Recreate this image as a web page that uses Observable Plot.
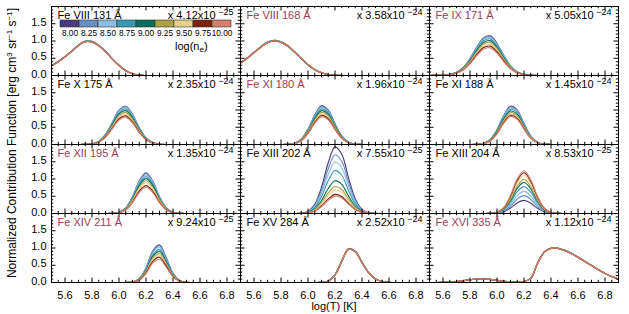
<!DOCTYPE html>
<html><head><meta charset="utf-8">
<script src="https://cdn.jsdelivr.net/npm/d3@7"></script>
<script src="https://cdn.jsdelivr.net/npm/@observablehq/plot@0.6"></script>
<style>
body{margin:0;background:#fff;font-family:"Liberation Sans",Arial,sans-serif;}
#wrap{position:relative;width:629px;height:314px;overflow:hidden;}
#ylab{position:absolute;left:12px;top:143px;transform:translate(-50%,-50%) rotate(-90deg);white-space:nowrap;font-size:12px;color:#000;}
#xlab{position:absolute;left:334px;top:300px;transform:translateX(-50%);white-space:nowrap;font-size:11px;color:#000;}
#cbar{position:absolute;left:56px;top:19px;}
#nelab{position:absolute;left:175px;top:40px;font-size:11px;white-space:nowrap;}
sup,sub{font-size:8px;}
sup{vertical-align:4px;} sub{vertical-align:-2px;}
</style></head><body>
<div id="wrap"></div>
<script>
// ---- data ----
const logT = [5.50,5.55,5.60,5.65,5.70,5.75,5.80,5.85,5.90,5.95,6.00,6.05,6.10,6.15,6.20,6.25,6.30,6.35,6.40,6.45,6.50,6.55,6.60,6.65,6.70,6.75,6.80,6.85,6.90];
const densities = ["8.00","8.25","8.50","8.75","9.00","9.25","9.50","9.75","10.00"];
const densityColors = ["#4a3b7c","#6a8dc2","#8cbde2","#3a99b2","#0b6b5c","#a9a244","#e7cf8c","#7b2209","#d2806f"];

const panelNames = ["Fe VIII 131 Å","Fe VIII 168 Å","Fe IX 171 Å","Fe X 175 Å","Fe XI 180 Å","Fe XI 188 Å","Fe XII 195 Å","Fe XIII 202 Å","Fe XIII 204 Å","Fe XIV 211 Å","Fe XV 284 Å","Fe XVI 335 Å"];
const panelHighlight = [false,true,true,false,true,false,true,false,false,true,false,true];
const scaleMantissa = ["4.12","3.58","5.05","2.35","1.96","1.45","1.35","7.55","8.53","9.24","2.52","1.12"];
const scaleExponent = ["−25","−24","−24","−24","−24","−24","−24","−25","−25","−25","−24","−24"];

const profFeVIII131 = [0.28,0.40,0.54,0.70,0.87,0.98,0.97,0.86,0.69,0.48,0.29,0.14,0.05,0.01,0,0,0,0,0,0,0,0,0,0,0,0,0,0,0];
const profFeVIII168 = [0.36,0.50,0.66,0.82,0.95,1.00,0.96,0.85,0.68,0.49,0.31,0.17,0.08,0.03,0.01,0,0,0,0,0,0,0,0,0,0,0,0,0,0];
const profFeIX171   = [0,0.005,0.01,0.03,0.08,0.20,0.42,0.71,0.94,0.99,0.80,0.50,0.24,0.09,0.03,0.01,0,0,0,0,0,0,0,0,0,0,0,0,0];
const profFeX175    = [0,0,0,0,0,0.003,0.018,0.08,0.26,0.57,0.89,0.99,0.78,0.43,0.17,0.05,0.01,0,0,0,0,0,0,0,0,0,0,0,0];
const profFeXI180   = [0,0,0,0,0,0,0,0.005,0.03,0.135,0.39,0.755,0.99,0.88,0.53,0.22,0.06,0.011,0.001,0,0,0,0,0,0,0,0,0,0];
const profFeXI188   = [0,0,0,0,0,0,0,0.005,0.03,0.13,0.38,0.75,0.99,0.89,0.54,0.22,0.06,0.011,0.001,0,0,0,0,0,0,0,0,0,0];
const profFeXII195  = [0,0,0,0,0,0,0,0,0,0.004,0.028,0.135,0.41,0.80,1.00,0.80,0.41,0.135,0.028,0.004,0,0,0,0,0,0,0,0,0];
const profFeXIII202 = [0,0,0,0,0,0,0,0,0,0.005,0.032,0.135,0.39,0.755,0.99,0.88,0.53,0.22,0.06,0.011,0.001,0,0,0,0,0,0,0,0];
const profFeXIII204 = [0,0,0,0,0,0,0,0,0,0.004,0.03,0.14,0.42,0.81,1.00,0.79,0.40,0.13,0.026,0.004,0,0,0,0,0,0,0,0,0];
const profFeXIV211  = [0,0,0,0,0,0,0,0,0,0,0,0.001,0.014,0.098,0.38,0.83,0.99,0.65,0.24,0.048,0.005,0,0,0,0,0,0,0,0];
const profFeXV284   = [0,0,0,0,0,0,0,0,0,0,0,0,0.005,0.04,0.22,0.62,0.97,0.90,0.58,0.28,0.10,0.03,0.008,0,0,0,0,0,0];
const profFeXVI335  = [0,0,0.005,0.015,0.03,0.055,0.08,0.10,0.105,0.09,0.06,0.035,0.02,0.02,0.03,0.12,0.55,0.88,0.99,0.99,0.93,0.84,0.73,0.61,0.49,0.37,0.26,0.17,0.10];

const peakFeVIII131 = [1.02,1.02,1.01,1.01,1.00,1.00,1.00,1.00,1.00];
const peakFeVIII168 = [1.02,1.02,1.01,1.01,1.00,1.00,1.00,1.00,1.00];
const peakFeIX171   = [1.16,1.14,1.11,1.07,1.02,0.97,0.91,0.86,0.81];
const peakFeX175    = [1.12,1.11,1.08,1.04,0.99,0.94,0.89,0.84,0.80];
const peakFeXI180   = [1.13,1.11,1.08,1.04,0.99,0.94,0.89,0.85,0.81];
const peakFeXI188   = [1.12,1.10,1.07,1.03,0.98,0.93,0.89,0.85,0.82];
const peakFeXII195  = [1.18,1.16,1.12,1.07,1.01,0.95,0.89,0.81,0.76];
const peakFeXIII202 = [1.95,1.72,1.50,1.26,0.96,0.79,0.69,0.56,0.51];
const peakFeXIII204 = [0.38,0.52,0.64,0.78,0.90,0.99,1.10,1.18,1.24];
const peakFeXIV211  = [1.10,1.08,1.03,0.97,0.91,0.85,0.80,0.74,0.68];
const peakFeXV284   = [1.01,1.01,1.00,1.00,1.00,0.99,0.99,0.99,0.99];
const peakFeXVI335  = [1.01,1.01,1.01,1.00,1.00,1.00,1.00,1.00,1.00];

const xMajor = [5.6,5.8,6.0,6.2,6.4,6.6,6.8];
const xMinor = [5.55,5.65,5.7,5.75,5.85,5.9,5.95,6.05,6.1,6.15,6.25,6.3,6.35,6.45,6.5,6.55,6.65,6.7,6.75,6.85];
const yMajor = [0,0.5,1.0,1.5];
const yMinor = [0.1,0.2,0.3,0.4,0.6,0.7,0.8,0.9,1.1,1.2,1.3,1.4,1.6,1.7,1.8,1.9];

// ---- build tables ----
const profiles = [profFeVIII131,profFeVIII168,profFeIX171,profFeX175,profFeXI180,profFeXI188,profFeXII195,profFeXIII202,profFeXIII204,profFeXIV211,profFeXV284,profFeXVI335];
const peaks = [peakFeVIII131,peakFeVIII168,peakFeIX171,peakFeX175,peakFeXI180,peakFeXI188,peakFeXII195,peakFeXIII202,peakFeXIII204,peakFeXIV211,peakFeXV284,peakFeXVI335];
const panels = panelNames.map((name,i)=>({name, hl: panelHighlight[i], mant: scaleMantissa[i], exp: scaleExponent[i], col: i%3, row: Math.floor(i/3)}));
const rows = [];
panels.forEach((p,i)=>{
  densities.forEach((dens,d)=>{
    logT.forEach((t,j)=>rows.push({col:p.col,row:p.row,t,v:profiles[i][j]*peaks[i][d],dens}));
  });
});

const xDom=[5.5,6.9], yDom=[0,2.0];
const ky = (yDom[1]-yDom[0])/69.25, kx=(xDom[1]-xDom[0])/189.3;
const font = "'Liberation Sans', Arial, sans-serif";

const chart = Plot.plot({
  width:629, height:314,
  marginLeft:50, marginRight:11, marginTop:5, marginBottom:32,
  style:{fontFamily:font, fontSize:"11px", background:"#fff", color:"#000"},
  x:{domain:xDom},
  y:{domain:yDom},
  fx:{domain:[0,1,2], padding:0, axis:null},
  fy:{domain:[0,1,2,3], padding:0, axis:null},
  color:{domain:densities, range:densityColors},
  marks:[
    Plot.line(rows,{fx:"col",fy:"row",x:"t",y:"v",z:"dens",stroke:"dens",strokeWidth:1.15,curve:"catmull-rom"}),
    Plot.ruleX(xMajor,{x:d=>d,y1:yDom[0],y2:yDom[0]+4.5*ky,stroke:"#000"}),
    Plot.ruleX(xMajor,{x:d=>d,y1:yDom[1],y2:yDom[1]-4.5*ky,stroke:"#000"}),
    Plot.ruleX(xMinor,{x:d=>d,y1:yDom[0],y2:yDom[0]+2.2*ky,stroke:"#000"}),
    Plot.ruleX(xMinor,{x:d=>d,y1:yDom[1],y2:yDom[1]-2.2*ky,stroke:"#000"}),
    Plot.ruleY(yMajor,{y:d=>d,x1:xDom[0],x2:xDom[0]+4.5*kx,stroke:"#000"}),
    Plot.ruleY(yMajor,{y:d=>d,x1:xDom[1],x2:xDom[1]-4.5*kx,stroke:"#000"}),
    Plot.ruleY(yMinor,{y:d=>d,x1:xDom[0],x2:xDom[0]+2.2*kx,stroke:"#000"}),
    Plot.ruleY(yMinor,{y:d=>d,x1:xDom[1],x2:xDom[1]-2.2*kx,stroke:"#000"}),
    Plot.frame({stroke:"#000",strokeWidth:1}),
    Plot.axisX(xMajor,{anchor:"bottom",tickSize:0,tickPadding:9,fontSize:11,tickFormat:d3.format(".1f"),label:null}),
    Plot.axisY(yMajor,{anchor:"left",tickSize:0,tickPadding:5,fontSize:11,dy:-1.5,tickFormat:d3.format(".1f"),label:null}),
    Plot.text(panels.filter(p=>!p.hl),{fx:"col",fy:"row",text:"name",frameAnchor:"top-left",dx:6,dy:5,lineAnchor:"top",textAnchor:"start",fontSize:11,fill:"#000"}),
    Plot.text(panels.filter(p=>p.hl),{fx:"col",fy:"row",text:"name",frameAnchor:"top-left",dx:6,dy:5,lineAnchor:"top",textAnchor:"start",fontSize:11,fill:"#9b3d55"}),
    Plot.text(panels,{fx:"col",fy:"row",text:d=>"x "+d.mant+"x10",frameAnchor:"top-right",dx:-25,dy:5,lineAnchor:"top",textAnchor:"end",fontSize:11,fill:"#000"}),
    Plot.text(panels,{fx:"col",fy:"row",text:"exp",frameAnchor:"top-right",dx:-7,dy:2.5,lineAnchor:"top",textAnchor:"end",fontSize:9,fill:"#000"})
  ]
});

const cbar = Plot.plot({
  width:178, height:19, marginTop:1, marginBottom:11, marginLeft:1, marginRight:1,
  style:{fontFamily:font, fontSize:"8px", background:"transparent"},
  x:{domain:densities, padding:0},
  color:{domain:densities, range:densityColors},
  marks:[
    Plot.cell(densities,{x:d=>d,fill:d=>d,stroke:"#333",strokeWidth:0.6}),
    Plot.axisX({tickSize:0,tickPadding:3,fontSize:8.3,label:null})
  ]
});

const wrap = document.getElementById("wrap");
wrap.appendChild(chart);
const cb = document.createElement("div"); cb.id="cbar"; cb.appendChild(cbar); wrap.appendChild(cb);
const ne = document.createElement("div"); ne.id="nelab"; ne.innerHTML="log(n<sub>e</sub>)"; wrap.appendChild(ne);
const yl = document.createElement("div"); yl.id="ylab"; yl.innerHTML="Normalized Contribution Function [erg cm<sup>3</sup> sr<sup>−1</sup> s<sup>−1</sup>]"; wrap.appendChild(yl);
const xl = document.createElement("div"); xl.id="xlab"; xl.textContent="log(T) [K]"; wrap.appendChild(xl);
</script>
</body></html>
